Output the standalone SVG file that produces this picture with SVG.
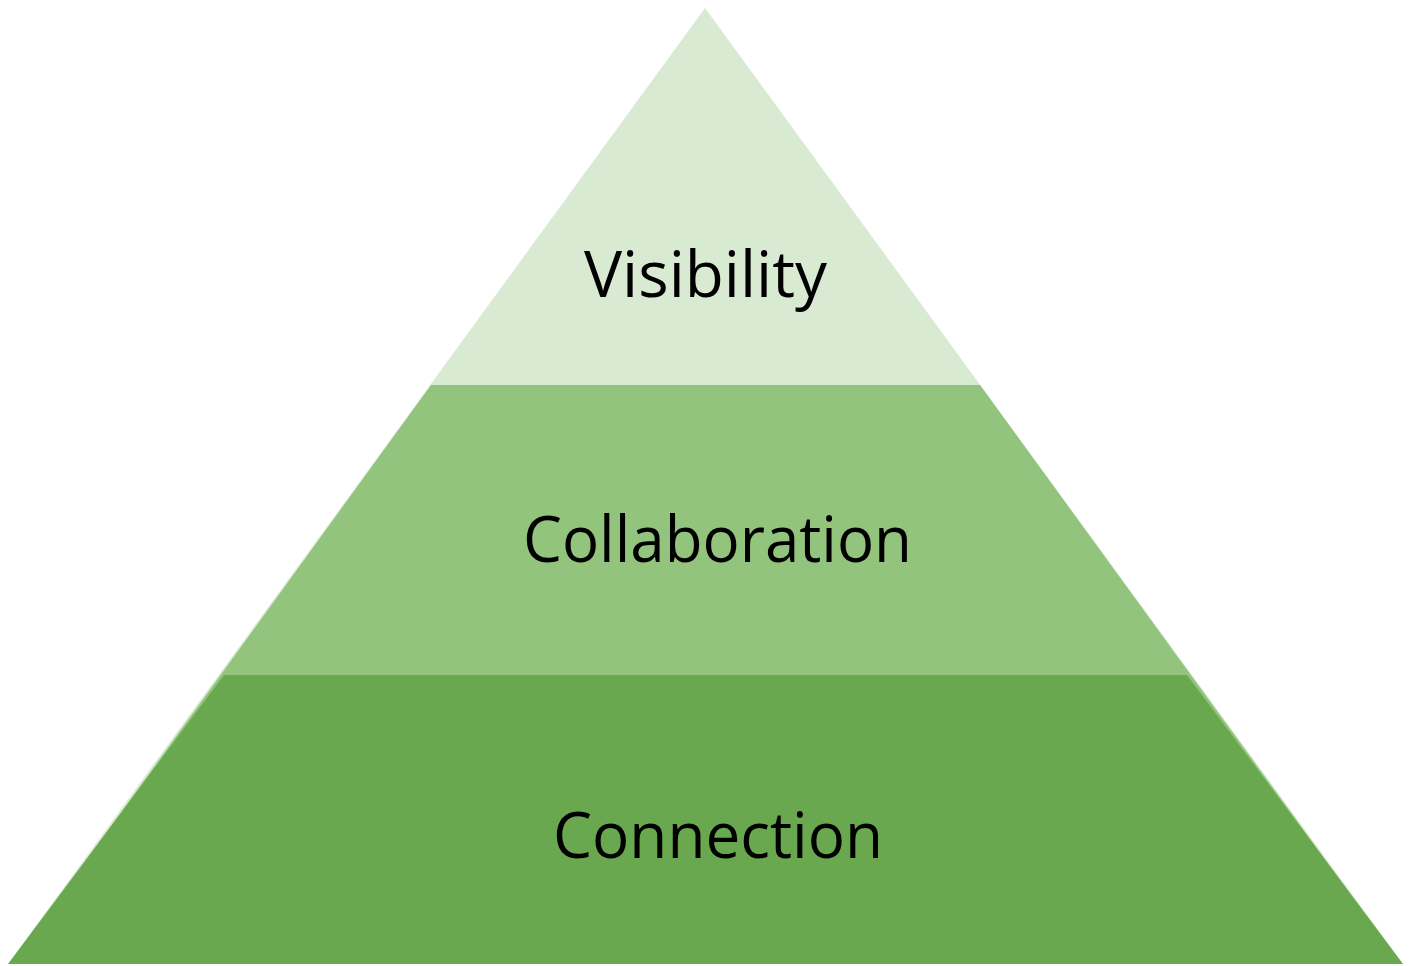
<svg xmlns="http://www.w3.org/2000/svg" width="1409" height="966" viewBox="0 0 1409 966">
  <style>
    .label { font-family: "Open Sans", "Noto Sans", "Liberation Sans", sans-serif; font-size: 64px; fill: #000000; text-anchor: start; }
    .top { fill: #d9ead3; }
    .mid { fill: #93c47d; }
    .base { fill: #6aa84f; }
  </style>
  <rect width="1409" height="966" fill="#ffffff"/>
  <!-- Full pyramid silhouette, lightest tint -->
  <g id="visibility">
    <polygon class="top" points="705,8 1403,964 8,964"/>
    <text class="label" x="584" y="297" textLength="243" lengthAdjust="spacingAndGlyphs">Visibility</text>
  </g>
  <g id="collaboration">
    <polygon class="mid" points="431,385 980,385 1401,964 11,964"/>
    <text class="label" x="523" y="562" textLength="389" lengthAdjust="spacingAndGlyphs">Collaboration</text>
  </g>
  <g id="connection">
    <polygon class="base" points="224,675 1187,675 1403,964 8,964"/>
    <text class="label" x="553" y="858" textLength="330" lengthAdjust="spacingAndGlyphs">Connection</text>
  </g>
  <g id="connectors"/>
</svg>
